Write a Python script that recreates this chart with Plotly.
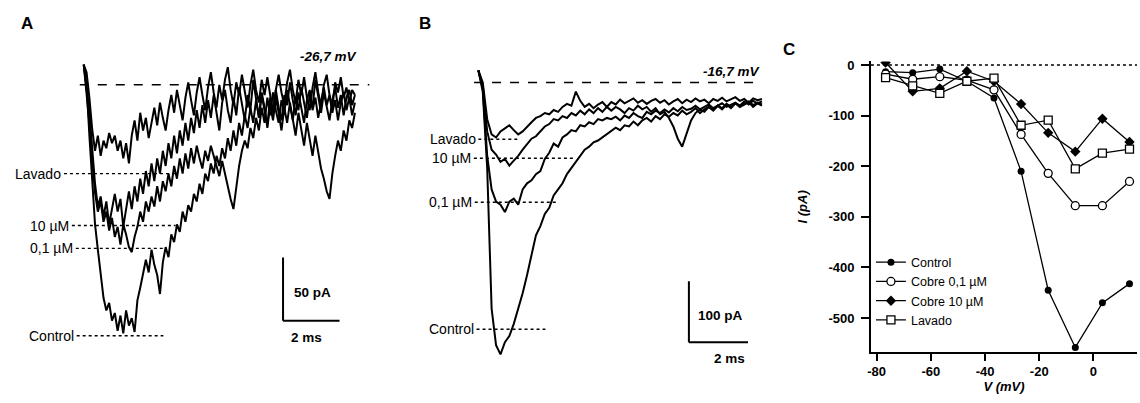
import plotly.graph_objects as go

W, H = 1140, 403
FONT = "Liberation Sans, Arial, sans-serif"

# ---------------- Panel A data (-26,7 mV): current in pA, sampled every 0.1 ms ----------------
A_SAMPLE_MS = 0.1
a_control = [16, 0, -40, -75, -110, -130, -150, -168, -178, -172,
             -186, -180, -194, -182, -196, -178, -190, -184, -195, -170,
             -160, -150, -138, -148, -130, -142, -150, -165, -140, -128,
             -136, -118, -124, -110, -116, -100, -108, -95, -100, -86,
             -92, -78, -86, -70, -76, -62, -70, -56, -64, -50,
             -58, -42, -52, -36, -48, -30, -40, -24, -34, -18,
             -30, -12, -25, -8, -20, -32, -10, -22, -4, -18,
             -28, -8, -16, 2, -12, -24, -6, -18, -30, -12,
             -4, -20, -10, -26, -14, -2, -16, -8, -22, -12,
             -28, -14, -6, -20, -10, -24, -14]
a_cu01 = [16, -5, -30, -60, -85, -100, -92, -108, -100, -115,
          -105, -120, -112, -126, -110, -118, -128, -132, -120, -112,
          -100, -108, -92, -100, -88, -96, -80, -92, -76, -84,
          -70, -80, -64, -74, -58, -70, -54, -66, -50, -62,
          -48, -58, -66, -52, -60, -48, -56, -64, -72, -60,
          -70, -82, -90, -98, -80, -64, -52, -44, -50, -34,
          -42, -26, -36, -18, -30, -10, -24, -6, -20, -30,
          -12, -22, -4, -16, -28, -10, -20, -2, -14, -26,
          -8, -18, 4, -10, -22, -6, -16, -28, -12, -2,
          -18, -8, -24, -10, -4, -16, -8]
a_cu10 = [16, 0, -20, -50, -78, -96, -88, -104, -92, -110,
          -98, -86, -100, -90, -112, -96, -84, -98, -80, -92,
          -74, -86, -68, -80, -62, -76, -58, -70, -52, -64,
          -46, -58, -40, -54, -36, -48, -30, -44, -26, -38,
          -20, -34, -16, -30, -12, -26, -8, -22, -36, -14,
          -4, -20, -30, -10, -24, -2, -16, -28, -8, -20,
          4, -12, -26, -6, -18, -34, -16, -28, -10, -22,
          -36, -18, -30, -14, -26, -40, -22, -36, -48, -30,
          -44, -56, -40, -54, -66, -74, -84, -90, -70, -56,
          -44, -52, -36, -44, -28, -34, -22]
a_lavado = [16, 10, -10, -35, -52, -40, -56, -44, -50, -38,
            -46, -40, -52, -44, -58, -46, -62, -40, -28, -44,
            -22, -36, -26, -42, -30, -18, -32, -14, -26, -36,
            -20, -8, -22, -4, -16, -28, -10, 2, -12, -24,
            -6, 6, -8, -20, -2, 10, -6, -18, 0, -12,
            4, 14, -4, -16, 2, -8, 8, -6, -18, 0,
            12, -4, -14, 4, -8, 6, -10, -22, -4, 8,
            -6, -16, 2, 12, -4, -14, 4, -8, 6, -10,
            -20, -2, 10, -6, -16, 0, 8, -8, -18, 2,
            -6, 6, -10, -2, -14, -4, -8]
a_levels = {"Lavado": -70, "10 µM": -111, "0,1 µM": -129, "Control": -198}

# ---------------- Panel B data (-16,7 mV): current in pA, sampled every 0.15 ms ----------------
B_SAMPLE_MS = 0.15
b_control = [20, -15, -140, -370, -430, -445, -425, -415, -395, -370,
             -345, -315, -285, -250, -235, -215, -205, -185, -175, -165,
             -150, -140, -130, -118, -110, -105, -98, -95, -90, -85,
             -80, -74, -78, -70, -72, -64, -70, -62, -58, -64,
             -55, -60, -52, -56, -50, -54, -46, -52, -48, -42,
             -50, -44, -40, -46, -38, -44, -36, -42, -34, -40,
             -36, -32, -40, -34, -38]
b_cu01 = [20, -10, -120, -175, -195, -200, -212, -195, -190, -200,
          -175, -165, -160, -150, -145, -125, -115, -100, -105, -90,
          -85, -78, -80, -70, -72, -65, -68, -60, -62, -58,
          -60, -56, -62, -54, -58, -50, -55, -58, -48, -52,
          -46, -50, -44, -49, -42, -47, -40, -45, -43, -38,
          -44, -40, -36, -42, -38, -34, -40, -36, -33, -38,
          -35, -31, -37, -33, -36]
b_cu10 = [20, -5, -80, -110, -118, -130, -125, -136, -128, -120,
          -110, -100, -92, -88, -80, -72, -68, -60, -62, -55,
          -58, -50, -54, -46, -52, -44, -50, -42, -48, -40,
          -46, -40, -44, -50, -42, -46, -38, -44, -40, -48,
          -42, -52, -48, -58, -72, -92, -105, -82, -62, -50,
          -44, -48, -40, -45, -38, -42, -35, -40, -34, -38,
          -31, -36, -30, -34, -31]
b_lavado = [20, 0, -60, -85, -90, -80, -75, -70, -78, -85,
            -80, -72, -65, -58, -55, -50, -52, -45, -48, -40,
            -35, -38, -15, -30, -40, -35, -42, -36, -32, -40,
            -32, -36, -28, -34, -30, -26, -33, -29, -35, -30,
            -27, -33, -29, -36, -31, -27, -34, -28, -32, -26,
            -31, -28, -34, -27, -30, -25, -31, -28, -24, -30,
            -27, -33, -26, -29, -27]
b_levels = {"Lavado": -93, "10 µM": -124, "0,1 µM": -196, "Control": -404}

# ---------------- Panel C data: I-V curves ----------------
voltage_mV = [-76.7, -66.7, -56.7, -46.7, -36.7, -26.7, -16.7, -6.7, 3.3, 13.3]
iv_control = [-13, -15, -8, -32, -65, -210, -445, -558, -470, -432]
iv_cu01 = [-18, -28, -23, -30, -49, -137, -214, -278, -278, -230]
iv_cu10 = [5, -52, -46, -12, -32, -77, -134, -171, -106, -152]
iv_lavado = [-25, -41, -56, -32, -26, -119, -109, -205, -174, -166]
iv_names = ["Control", "Cobre 0,1 µM", "Cobre 10 µM", "Lavado"]
x_ticks = [-80, -60, -40, -20, 0]
y_ticks = [0, -100, -200, -300, -400, -500]


def times(vals, step):
    return [round(i * step, 3) for i in range(len(vals))]


fig = go.Figure()

for vals in (a_control, a_cu01, a_cu10, a_lavado):
    fig.add_trace(go.Scatter(x=times(vals, A_SAMPLE_MS), y=vals, mode="lines",
                             line=dict(color="black", width=2),
                             xaxis="x", yaxis="y", showlegend=False, hoverinfo="skip"))
for vals in (b_control, b_cu01, b_cu10, b_lavado):
    fig.add_trace(go.Scatter(x=times(vals, B_SAMPLE_MS), y=vals, mode="lines",
                             line=dict(color="black", width=2),
                             xaxis="x2", yaxis="y2", showlegend=False, hoverinfo="skip"))

styles = [
    dict(symbol="circle", color="black", size=7),
    dict(symbol="circle", color="white", size=8, line=dict(color="black", width=1.3)),
    dict(symbol="diamond", color="black", size=8),
    dict(symbol="square", color="white", size=8, line=dict(color="black", width=1.3)),
]
for name, vals, mk in zip(iv_names, (iv_control, iv_cu01, iv_cu10, iv_lavado), styles):
    fig.add_trace(go.Scatter(x=voltage_mV, y=vals, mode="lines+markers", name=name,
                             line=dict(color="black", width=1.3), marker=mk,
                             xaxis="x3", yaxis="y3"))

shapes = []
ann = []


def hline(xref, yref, x0, x1, y, dash="dot", w=1.4):
    shapes.append(dict(type="line", xref=xref, yref=yref, x0=x0, x1=x1, y0=y, y1=y,
                       line=dict(color="black", width=w, dash=dash)))


def text(xref, yref, x, y, s, anchor="center", size=11, bold=False, italic=False):
    if bold:
        s = "<b>" + s + "</b>"
    if italic:
        s = "<i>" + s + "</i>"
    ann.append(dict(xref=xref, yref=yref, x=x, y=y, text=s, showarrow=False,
                    xanchor=anchor, yanchor="middle",
                    font=dict(family=FONT, size=size, color="black")))


LBL = 14

# Panel A decorations
hline("x", "y", -0.14, 10.11, 0, dash="dash", w=1.5)
a_starts = {"Lavado": -0.70, "10 µM": -0.42, "0,1 µM": -0.28, "Control": -0.25}
a_ends = {"Lavado": 3.28, "10 µM": 3.25, "0,1 µM": 2.93, "Control": 2.82}
for k, lv in a_levels.items():
    hline("x", "y", a_starts[k], a_ends[k], lv)
    text("x", "y", a_starts[k] - 0.02, lv, k, anchor="right", size=LBL)
text("x", "y", 8.68, 22.7, "-26,7 mV", size=13.5, bold=True, italic=True)
shapes.append(dict(type="line", xref="x", yref="y", x0=7.055, x1=7.055, y0=-136.2, y1=-186.2,
                   line=dict(color="black", width=2)))
shapes.append(dict(type="line", xref="x", yref="y", x0=7.055, x1=9.055, y0=-186.2, y1=-186.2,
                   line=dict(color="black", width=2)))
text("x", "y", 7.38, -164, "50 pA", anchor="left", size=13.5, bold=True)
text("x", "y", 7.9, -199.5, "2 ms", size=13.5, bold=True)

# Panel B decorations
hline("x2", "y2", -0.145, 9.41, 0, dash="dash", w=1.5)
b_starts = {"Lavado": 0.0, "10 µM": -0.15, "0,1 µM": -0.12, "Control": -0.06}
b_ends = {"Lavado": 1.37, "10 µM": 3.28, "0,1 µM": 2.66, "Control": 2.27}
for k, lv in b_levels.items():
    hline("x2", "y2", b_starts[k], b_ends[k], lv)
    text("x2", "y2", b_starts[k] - 0.02, lv, k, anchor="right", size=LBL)
text("x2", "y2", 8.57, 17.8, "-16,7 mV", size=13.5, bold=True, italic=True)
shapes.append(dict(type="line", xref="x2", yref="y2", x0=7.127, x1=7.127, y0=-325.3, y1=-425.3,
                   line=dict(color="black", width=2)))
shapes.append(dict(type="line", xref="x2", yref="y2", x0=7.127, x1=9.127, y0=-425.3, y1=-425.3,
                   line=dict(color="black", width=2)))
text("x2", "y2", 7.36, -382, "100 pA", anchor="left", size=13.5, bold=True)
text("x2", "y2", 8.5, -451.7, "2 ms", size=13.5, bold=True)

# Panel C zero line
hline("x3", "y3", -82.1, 16.07, 0, w=1.6)

# Panel letters
text("paper", "paper", 23 / W, 1 - 20 / H, "A", size=17, bold=True)
text("paper", "paper", 422 / W, 1 - 20 / H, "B", size=17, bold=True)
text("paper", "paper", 788 / W, 1 - 46 / H, "C", size=17, bold=True)

hidden = dict(visible=False, showgrid=False, zeroline=False, fixedrange=True)
tickfont = dict(family=FONT, size=13, color="black", weight="bold")

fig.update_layout(
    width=W, height=H, margin=dict(l=0, r=0, t=0, b=0),
    paper_bgcolor="white", plot_bgcolor="rgba(0,0,0,0)",
    font=dict(family=FONT, size=12, color="black"),
    xaxis=dict(domain=[0, 400 / W], range=[-2.822, 11.287], **hidden),
    yaxis=dict(domain=[0, 1], range=[-251.0, 63.8], **hidden),
    xaxis2=dict(domain=[400 / W, 780 / W], range=[-2.563, 10.253], anchor="y2", **hidden),
    yaxis2=dict(domain=[0, 1], range=[-524.6, 128.5], anchor="x2", **hidden),
    xaxis3=dict(domain=[870 / W, 1137 / W], range=[-82.1, 16.07], anchor="y3",
                showline=True, linecolor="black", linewidth=1.6, showgrid=False, zeroline=False,
                ticks="outside", ticklen=7, tickwidth=1.6, tickcolor="black",
                tickvals=x_ticks, ticktext=[str(v) for v in x_ticks],
                tickfont=tickfont, ticklabelstandoff=-1,
                title=dict(text="<b><i>V (mV)</i></b>", standoff=0,
                           font=dict(family=FONT, size=13, color="black"))),
    yaxis3=dict(domain=[1 - 351.7 / H, 1 - 58 / H], range=[-567.5, 7.2], anchor="x3",
                showline=True, linecolor="black", linewidth=1.6, showgrid=False, zeroline=False,
                ticks="outside", ticklen=8, tickwidth=1.6, tickcolor="black",
                tickvals=y_ticks, ticktext=[str(v) for v in y_ticks],
                tickfont=tickfont, ticklabelstandoff=4,
                title=dict(text="<b><i>I (pA)</i></b>", standoff=18,
                           font=dict(family=FONT, size=13, color="black"))),
    legend=dict(x=870 / W, y=1 - 246 / H, xanchor="left", yanchor="top",
                bgcolor="rgba(0,0,0,0)", font=dict(family=FONT, size=12.5, color="black"),
                tracegroupgap=0, itemwidth=30),
    shapes=shapes, annotations=ann,
)

fig.write_html("out.html")
